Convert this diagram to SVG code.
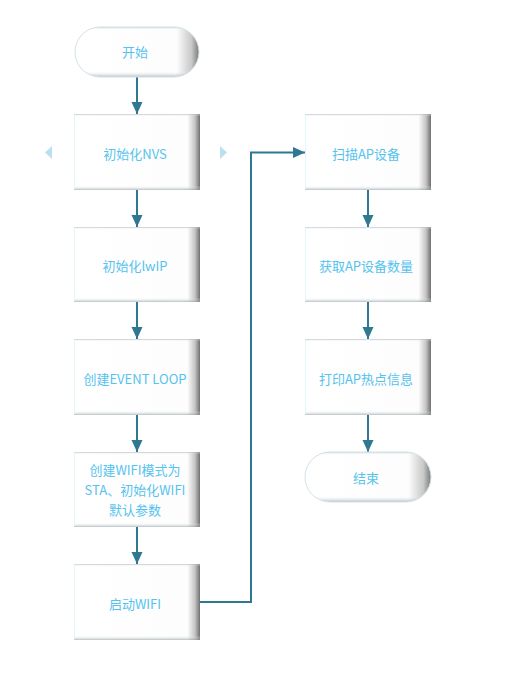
<svg xmlns="http://www.w3.org/2000/svg" width="515" height="682" viewBox="0 0 515 682">
<defs>
<style>
.t{font-family:"Microsoft YaHei","Noto Sans CJK SC","Noto Sans",sans-serif;font-size:13px;fill:#55c3ee;text-anchor:middle;dominant-baseline:central}
.c{stroke:#2f7892;stroke-width:2;fill:none}
.base{fill:url(#hg)}
.ov{fill:url(#vg)}
.edge{stroke:#e4f6fc;stroke-width:1}
.pill{fill:url(#vg2);stroke:#d3e2e8;stroke-width:1}
</style>
<linearGradient id="hg" x1="0" y1="0" x2="1" y2="0">
<stop offset="0" stop-color="#ffffff"/>
<stop offset="0.9" stop-color="#fdfdfd"/>
<stop offset="0.96" stop-color="#c4c4c4"/>
<stop offset="1" stop-color="#6f6f6f"/>
</linearGradient>
<linearGradient id="vg" x1="0" y1="0" x2="0" y2="1">
<stop offset="0" stop-color="#9aa8ae" stop-opacity="0.7"/>
<stop offset="0.03" stop-color="#ffffff" stop-opacity="0"/>
<stop offset="0.94" stop-color="#ffffff" stop-opacity="0"/>
<stop offset="1" stop-color="#8a979c" stop-opacity="0.6"/>
</linearGradient>
<linearGradient id="vg2" x1="0" y1="0" x2="0" y2="1">
<stop offset="0" stop-color="#9aa8ae" stop-opacity="0.5"/>
<stop offset="0.06" stop-color="#ffffff" stop-opacity="0"/>
<stop offset="0.88" stop-color="#ffffff" stop-opacity="0"/>
<stop offset="1" stop-color="#8a979c" stop-opacity="0.6"/>
</linearGradient>
<linearGradient id="hg2" x1="0" y1="0" x2="1" y2="0">
<stop offset="0" stop-color="#ffffff"/>
<stop offset="0.82" stop-color="#fdfdfd"/>
<stop offset="0.94" stop-color="#c8c8c8"/>
<stop offset="1" stop-color="#7a7a7a"/>
</linearGradient>
<marker id="ah" viewBox="0 0 12 12" markerWidth="12" markerHeight="12" refX="12" refY="6" orient="auto" markerUnits="userSpaceOnUse">
<path d="M0,0.5 L12,6 L0,11.5 Z" fill="#2f7892"/>
</marker>
</defs>
<rect width="515" height="682" fill="#ffffff"/>

<g id="connectors">
<line class="c" x1="137" y1="77" x2="137" y2="114" marker-end="url(#ah)"/>
<line class="c" x1="137" y1="190" x2="137" y2="227" marker-end="url(#ah)"/>
<line class="c" x1="137" y1="302" x2="137" y2="339" marker-end="url(#ah)"/>
<line class="c" x1="137" y1="415" x2="137" y2="452" marker-end="url(#ah)"/>
<line class="c" x1="137" y1="527" x2="137" y2="564" marker-end="url(#ah)"/>
<polyline class="c" points="200,602 251,602 251,152.5 305,152.5" marker-end="url(#ah)"/>
<line class="c" x1="368" y1="190" x2="368" y2="227" marker-end="url(#ah)"/>
<line class="c" x1="368" y1="302" x2="368" y2="339" marker-end="url(#ah)"/>
<line class="c" x1="368" y1="415" x2="368" y2="452" marker-end="url(#ah)"/>
</g>

<g id="nav">
<path d="M52,146 L45,152.5 L52,159 Z" fill="#b9dff0"/>
<path d="M220,146 L227,152.5 L220,159 Z" fill="#b9dff0"/>
</g>

<g id="start">
<rect x="75" y="27" width="124" height="50" rx="25" fill="url(#hg2)"/>
<rect class="pill" x="75" y="27" width="124" height="50" rx="25"/>
<text class="t" x="135" y="51">开始</text>
</g>
<g id="n1">
<rect class="base" x="74" y="114" width="126" height="76"/>
<rect class="ov" x="74" y="114" width="126" height="76"/>
<line class="edge" x1="74.5" y1="115" x2="74.5" y2="189"/>
<text class="t" x="135" y="153">初始化NVS</text>
</g>
<g id="n2">
<rect class="base" x="74" y="227" width="126" height="75"/>
<rect class="ov" x="74" y="227" width="126" height="75"/>
<line class="edge" x1="74.5" y1="228" x2="74.5" y2="301"/>
<text class="t" x="135" y="265">初始化lwIP</text>
</g>
<g id="n3">
<rect class="base" x="74" y="339" width="126" height="76"/>
<rect class="ov" x="74" y="339" width="126" height="76"/>
<line class="edge" x1="74.5" y1="340" x2="74.5" y2="414"/>
<text class="t" x="135" y="378">创建EVENT LOOP</text>
</g>
<g id="n4">
<rect class="base" x="74" y="452" width="126" height="75"/>
<rect class="ov" x="74" y="452" width="126" height="75"/>
<line class="edge" x1="74.5" y1="453" x2="74.5" y2="526"/>
<text class="t" x="135" y="469">创建WIFI模式为</text>
<text class="t" x="135" y="489">STA、初始化WIFI</text>
<text class="t" x="135" y="509">默认参数</text>
</g>
<g id="n5">
<rect class="base" x="74" y="564" width="126" height="76"/>
<rect class="ov" x="74" y="564" width="126" height="76"/>
<line class="edge" x1="74.5" y1="565" x2="74.5" y2="639"/>
<text class="t" x="135" y="603">启动WIFI</text>
</g>
<g id="n6">
<rect class="base" x="305" y="114" width="126" height="76"/>
<rect class="ov" x="305" y="114" width="126" height="76"/>
<line class="edge" x1="305.5" y1="115" x2="305.5" y2="189"/>
<text class="t" x="366" y="153">扫描AP设备</text>
</g>
<g id="n7">
<rect class="base" x="305" y="227" width="126" height="75"/>
<rect class="ov" x="305" y="227" width="126" height="75"/>
<line class="edge" x1="305.5" y1="228" x2="305.5" y2="301"/>
<text class="t" x="366" y="265">获取AP设备数量</text>
</g>
<g id="n8">
<rect class="base" x="305" y="339" width="126" height="76"/>
<rect class="ov" x="305" y="339" width="126" height="76"/>
<line class="edge" x1="305.5" y1="340" x2="305.5" y2="414"/>
<text class="t" x="366" y="378">打印AP热点信息</text>
</g>
<g id="end">
<rect x="305" y="452" width="126" height="50" rx="25" fill="url(#hg2)"/>
<rect class="pill" x="305" y="452" width="126" height="50" rx="25"/>
<text class="t" x="366" y="477">结束</text>
</g>
</svg>
